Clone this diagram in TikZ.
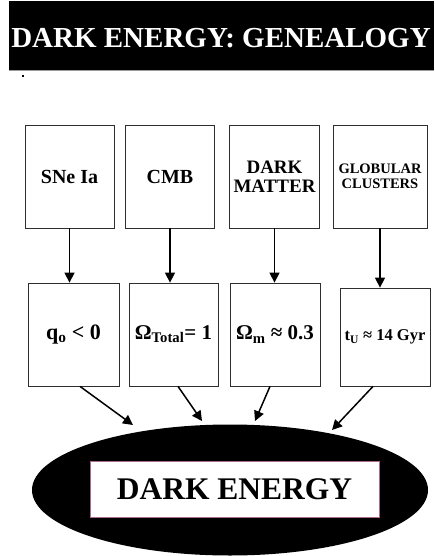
\documentclass[tikz,border=0pt]{standalone}
\usepackage{fontspec}
\setmainfont{Liberation Serif}
\usetikzlibrary{arrows.meta, shapes.geometric}
\definecolor{boxedge}{HTML}{2E2E2E}
\definecolor{rosered}{HTML}{B06A90}
\definecolor{bandline}{HTML}{9A9A9A}

\newcommand{\fsz}[2]{\fontsize{#1}{#2}\selectfont\bfseries}

\begin{document}
\begin{tikzpicture}[x=1pt, y=-1pt, >={Triangle[length=10pt, width=10pt]},
  srcbox/.style={draw=boxedge, line width=0.8pt, minimum width=89pt,
    minimum height=103pt, inner sep=1pt, align=center},
  flow/.style={->, line width=1.5pt}]

\useasboundingbox (0,0) rectangle (434,556);

% Title band
\fill[black] (9,1) rectangle (434,70);
\draw[bandline, line width=0.6pt] (9,70) -- (434,70);
\node[text=white, font=\fsz{29}{34}] (title) at (221,38) {DARK ENERGY: GENEALOGY};
\fill (22,75) rectangle (24,77);

% === TOP: observations ===
\node[srcbox, font=\fsz{20}{24}] (sne) at (69.5,176.5) {SNe Ia};
\node[srcbox, font=\fsz{20}{24}] (cmb) at (170,176.5) {CMB};
\node[srcbox, minimum width=90pt, font=\fsz{19}{18.5}] (dm) at (274.5,176.5) {DARK\\MATTER};
\node[srcbox, minimum width=94pt, font=\fsz{14.5}{15.5}] (gc) at (380,176.5) {GLOBULAR\\CLUSTERS};

% === MIDDLE: inferred parameters ===
\node[srcbox, minimum width=91pt, font=\fsz{22}{26}] (qo) at (73.5,334.5) {q\textsubscript{o} < 0};
\node[srcbox, font=\fsz{21}{25}] (omt) at (173.5,334.5) {Ω\textsubscript{Total}= 1};
\node[srcbox, minimum width=90pt, font=\fsz{21}{25}] (omm) at (275,334.5) {Ω\textsubscript{m} ≈ 0.3};
\node[srcbox, minimum width=90pt, minimum height=98pt, font=\fsz{16.5}{20}] (tu) at (385,337) {t\textsubscript{U} ≈ 14 Gyr};

% vertical arrows
\draw[flow] (sne) -- (sne |- qo.north);
\draw[flow] (cmb) -- (cmb |- omt.north);
\draw[flow] (dm) -- (dm |- omm.north);
\draw[flow] (gc) -- (gc |- tu.north);

% === BOTTOM: dark energy ===
\node[ellipse, fill=black, minimum width=396pt, minimum height=131pt, inner sep=0pt] (ell) at (230,490) {};
\node[draw=rosered, line width=1pt, fill=white, minimum width=289pt, minimum height=56pt,
  font=\fsz{31.5}{36}] (de) at (234.5,489) {DARK ENERGY};

% arrow tips just above the ellipse
\coordinate (e1) at (133,425);
\coordinate (e2) at (202,421);
\coordinate (e3) at (255,421);
\coordinate (e4) at (332,430);

\draw[flow] ([xshift=6.5pt]qo.south) -- (e1);
\draw[flow] ([xshift=4.5pt]omt.south) -- (e2);
\draw[flow] ([xshift=-5pt]omm.south) -- (e3);
\draw[flow] ([xshift=-12pt]tu.south) -- (e4);

\end{tikzpicture}
\end{document}
